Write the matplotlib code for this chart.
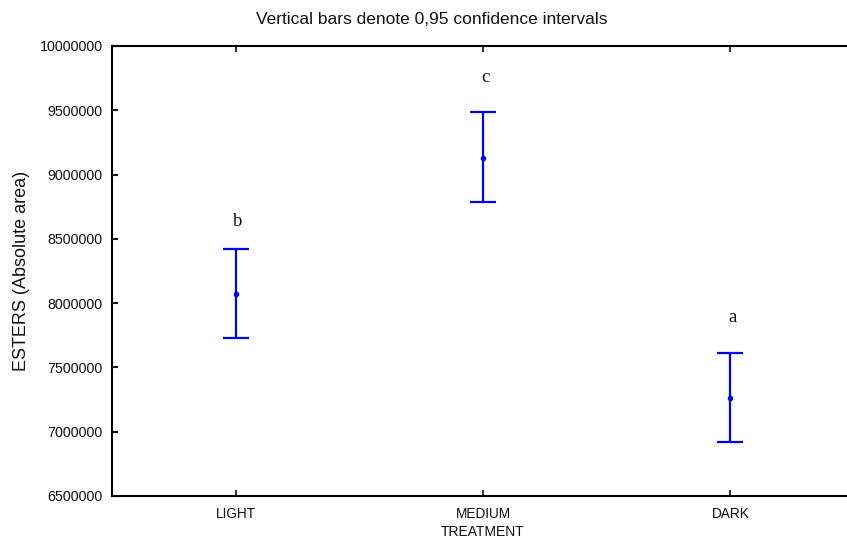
import matplotlib
matplotlib.use("Agg")
import matplotlib.pyplot as plt
import numpy as np

# Treatment groups and ester peak areas (mean with 95% CI)
treatments = ["LIGHT", "MEDIUM", "DARK"]
means = [8070000, 9127000, 7265000]
ci_lower = [7729000, 8789000, 6918000]
ci_upper = [8419000, 9484000, 7615000]
groups = ["b", "c", "a"]
group_label_y = [8600000, 9720000, 7853000]
y_ticks = [6500000, 7000000, 7500000, 8000000, 8500000, 9000000, 9500000, 10000000]

plt.rcParams["font.family"] = ["Liberation Sans", "DejaVu Sans"]

W, H = 847, 540
fig = plt.figure(figsize=(W / 100, H / 100), dpi=100)
ax = fig.add_axes([112 / W, (H - 496) / H, 742 / W, 450 / H])

x = np.arange(len(treatments))
m = np.array(means)
yerr = np.vstack([m - np.array(ci_lower), np.array(ci_upper) - m])
ax.errorbar(x, m, yerr=yerr, fmt="o", color="#0000ff", ecolor="#0000ff",
            markersize=3, elinewidth=1.6, capsize=9.7, capthick=1.6, zorder=3)

for xi, g, gy in zip(x, groups, group_label_y):
    ax.text(xi + 0.01, gy, g, ha="center", va="baseline",
            family=["Liberation Serif", "DejaVu Serif"], fontsize=13.5, color="#111111")

ax.set_xlim(-0.5, 2.5)
ax.set_ylim(6500000, 10000000)
ax.set_xticks(x)
ax.set_xticklabels(treatments, fontsize=9.8)
ax.set_yticks(y_ticks)
ax.set_yticklabels([str(v) for v in y_ticks], fontsize=10.3)

ax.spines["right"].set_visible(False)
for s in ["left", "top", "bottom"]:
    ax.spines[s].set_linewidth(1.5)
    ax.spines[s].set_color("black")

ax.tick_params(axis="y", direction="in", length=4, width=1.5, pad=6.5, colors="#111111")
ax.tick_params(axis="x", direction="in", length=4, width=1.2, pad=8, colors="#111111",
               top=True)

ax.set_xlabel("TREATMENT", fontsize=10, labelpad=3, color="#111111")
ax.set_ylabel("ESTERS (Absolute area)", fontsize=13, labelpad=7, color="#111111")
fig.text(432 / W, 1 - 20 / H, "Vertical bars denote 0,95 confidence intervals",
         ha="center", va="center", fontsize=12.5, color="#111111")

fig.savefig("out.png", dpi=100)
